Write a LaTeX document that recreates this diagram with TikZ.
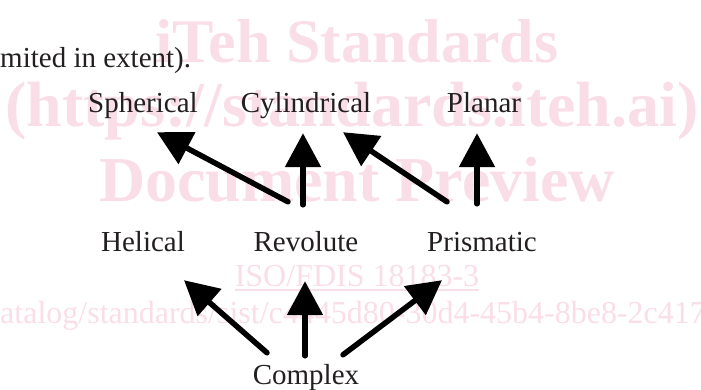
\documentclass[tikz,border=0pt]{standalone}
\usepackage{fontspec}
\setmainfont{Liberation Serif}
\usetikzlibrary{arrows.meta}
\definecolor{TintaOscura}{RGB}{35,31,32}
\definecolor{MarcaRosa}{RGB}{250,222,231}
\tikzset{
  jointlbl/.style={text=TintaOscura, font=\fontsize{29}{34}\selectfont, anchor=base,
    inner sep=0pt, text height=20pt, text depth=6pt},
  bigarr/.style={-{Triangle[length=34pt, width=35pt]}, line width=5.5pt, line cap=round, black},
  wmark/.style={text=MarcaRosa, font=\fontsize{#1}{#1}\selectfont\bfseries, anchor=base, inner sep=0pt},
  wmark/.default=64,
  wmsmall/.style={text=MarcaRosa, font=\fontsize{32}{32}\selectfont, anchor=base, inner sep=0pt},
}
\begin{document}
\begin{tikzpicture}[x=1pt, y=-1pt]
    \clip (0,0) rectangle (701,390);

    % ---- marca de agua ----
    \node[wmark=62] (wm1) at (357,63) {iTeh Standards};
    \node[wmark] (wm2) at (352,127) {(https://standards.iteh.ai)};
    \node[wmark] (wm3) at (357,202) {Document Preview};
    \node[wmsmall] (wm4) at (357,286) {ISO/FDIS 18183-3};
    \node[wmsmall, anchor=base west] (wm5) at (0,323) {atalog/standards/sist/c4445d80-30d4-45b4-8be8-2c417};
    \draw[MarcaRosa, line width=1.3pt] ([yshift=-4pt]wm4.base west) -- ([yshift=-4pt]wm4.base east);

    % ---- texto y tipos de junta ----
    \node[jointlbl, anchor=base west] (txt) at (0,68) {mited in extent).};

    \node[jointlbl] (sph) at (143,113) {Spherical};
    \node[jointlbl] (cyl) at (306,113) {Cylindrical};
    \node[jointlbl] (pla) at (484,113) {Planar};

    \node[jointlbl] (hel) at (143,251) {Helical};
    \node[jointlbl] (rev) at (306,251) {Revolute};
    \node[jointlbl] (pri) at (482,251) {Prismatic};

    \node[jointlbl] (com) at (306,384) {Complex};

    \draw[bigarr] ([xshift=-18pt, yshift=29pt]rev.north) -- ([xshift=14pt, yshift=-13pt]sph.south);
    \draw[bigarr] ([xshift=-3pt, yshift=26pt]rev.north) -- ([xshift=-3pt, yshift=-14pt]cyl.south);
    \draw[bigarr] ([xshift=-35pt, yshift=29pt]pri.north) -- ([xshift=37pt, yshift=-13pt]cyl.south);
    \draw[bigarr] ([xshift=-5pt, yshift=27pt]pri.north) -- ([xshift=-7pt, yshift=-14pt]pla.south);
    \draw[bigarr] ([xshift=-39pt, yshift=11pt]com.north) -- ([xshift=41pt, yshift=-23pt]hel.south);
    \draw[bigarr] ([xshift=-1pt, yshift=8pt]com.north) -- ([xshift=-1pt, yshift=-24pt]rev.south);
    \draw[bigarr] ([xshift=37pt, yshift=9pt]com.north) -- ([xshift=-40pt, yshift=-23pt]pri.south);
\end{tikzpicture}
\end{document}
